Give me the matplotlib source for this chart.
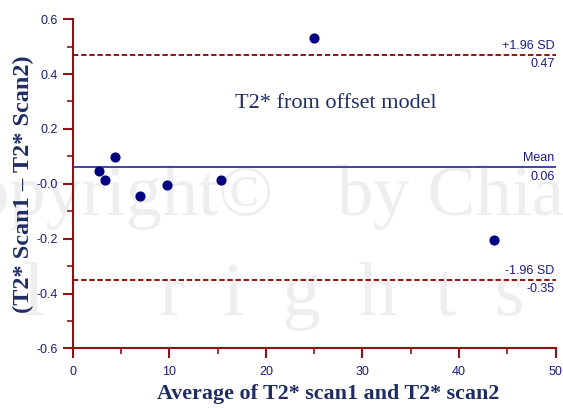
import matplotlib
matplotlib.use("Agg")
import matplotlib.pyplot as plt
from matplotlib.ticker import MultipleLocator, FixedLocator

# averages of scan1 and scan2, and differences scan1 - scan2
avg_t2 = [2.7, 3.4, 4.4, 7.0, 9.8, 15.4, 25.0, 43.6]
diff_t2 = [0.045, 0.015, 0.097, -0.044, -0.006, 0.013, 0.53, -0.203]

mean_diff = 0.06
upper_loa = 0.47
lower_loa = -0.35

y_ticks = [0.6, 0.4, 0.2, 0.0, -0.2, -0.4, -0.6]
y_tick_labels = ["0.6", "0.4", "0.2", "-0.0", "-0.2", "-0.4", "-0.6"]
x_ticks = [0, 10, 20, 30, 40, 50]

navy = "#1c1c80"
axis_red = "#8b1414"
label_blue = "#1f2d63"
mark_gray = "#eeeeee"

plt.rcParams['font.family'] = ['Liberation Sans', 'DejaVu Sans']

fig = plt.figure(figsize=(5.63, 4.08), dpi=100)

# faint copyright watermark behind the plot
wm = dict(family="Liberation Serif", color=mark_gray, zorder=-1, va="baseline")
fig.text(0.485, 0.473, "Copyright\u00a9", fontsize=52, ha="right", **wm)
fig.text(0.598, 0.473, "by Chiang Mai University", fontsize=52, ha="left", **wm)
fig.text(0.931, 0.228, "A  l  l      r  i  g  h  t  s", fontsize=55, ha="right", **wm)

ax = fig.add_axes([0.129, 0.146, 0.858, 0.807])
ax.patch.set_alpha(0)

ax.plot(avg_t2, diff_t2, "o", color="#000080", markersize=6.3, zorder=5, clip_on=False)

ax.axhline(mean_diff, color="#3434a0", linewidth=1.3)
ax.axhline(upper_loa, color="#8b0000", linewidth=1.3, linestyle=(0, (3, 1.5)))
ax.axhline(lower_loa, color="#8b0000", linewidth=1.3, linestyle=(0, (3, 1.5)))

# labels at the right end of the reference lines
tfont = dict(fontsize=9, color=navy, ha="right", transform=ax.get_yaxis_transform())
ax.text(0.998, upper_loa + 0.012, "+1.96 SD", va="bottom", **tfont)
ax.text(0.998, upper_loa - 0.012, f"{upper_loa:.2f}", va="top", **tfont)
ax.text(0.998, mean_diff + 0.012, "Mean", va="bottom", **tfont)
ax.text(0.998, mean_diff - 0.012, f"{mean_diff:.2f}", va="top", **tfont)
ax.text(0.998, lower_loa + 0.012, "-1.96 SD", va="bottom", **tfont)
ax.text(0.998, lower_loa - 0.012, f"{lower_loa:.2f}", va="top", **tfont)

ax.text(0.545, 0.743, "T2* from offset model", transform=ax.transAxes, ha="center", va="center",
        fontsize=16, family="Liberation Serif", color=label_blue)

ax.set_xlim(0, 50)
ax.set_ylim(-0.6, 0.6)
ax.xaxis.set_major_locator(FixedLocator(x_ticks))
ax.xaxis.set_minor_locator(MultipleLocator(5))
ax.yaxis.set_major_locator(FixedLocator(y_ticks))
ax.set_yticklabels(y_tick_labels)
ax.yaxis.set_minor_locator(MultipleLocator(0.1))

for side in ["top", "right"]:
    ax.spines[side].set_visible(False)
for side in ["left", "bottom"]:
    ax.spines[side].set_color(axis_red)
    ax.spines[side].set_linewidth(1.5)

ax.tick_params(which="major", length=7, width=1.5, color=axis_red, labelcolor=navy, labelsize=9)
ax.tick_params(which="minor", length=4, width=1.2, color=axis_red)
ax.tick_params(axis="x", pad=6)

ax.set_xlabel("Average of T2* scan1 and T2* scan2", fontsize=15.8, fontweight="bold",
              family="Liberation Serif", color=label_blue, labelpad=4)
ax.xaxis.label.set_x(0.529)
ax.set_ylabel("(T2* Scan1 \u2013 T2* Scan2)", fontsize=17.5, fontweight="bold",
              family="Liberation Serif", color=label_blue, labelpad=2)

fig.savefig("out.png", dpi=100)
